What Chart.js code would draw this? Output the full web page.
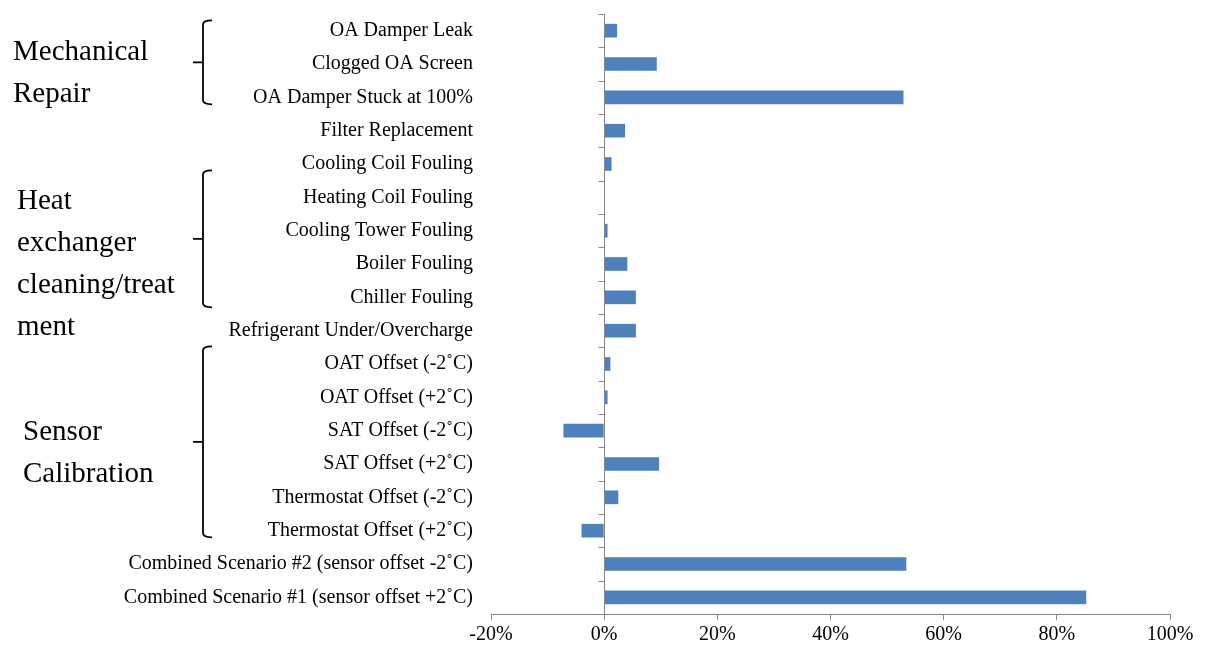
<!DOCTYPE html>
<html>
<head>
<meta charset="utf-8">
<script src="https://cdn.jsdelivr.net/npm/chart.js@4"></script>
<style>
  html, body { margin: 0; padding: 0; background: #fff; }
  #wrap { width: 1208px; height: 646px; }
</style>
</head>
<body>
<div id="wrap"><canvas id="myChart"></canvas></div>
<script>
// data
const categories = [
  'OA Damper Leak',
  'Clogged OA Screen',
  'OA Damper Stuck at 100%',
  'Filter Replacement',
  'Cooling Coil Fouling',
  'Heating Coil Fouling',
  'Cooling Tower Fouling',
  'Boiler Fouling',
  'Chiller Fouling',
  'Refrigerant Under/Overcharge',
  'OAT Offset (-2˚C)',
  'OAT Offset (+2˚C)',
  'SAT Offset (-2˚C)',
  'SAT Offset (+2˚C)',
  'Thermostat Offset (-2˚C)',
  'Thermostat Offset (+2˚C)',
  'Combined Scenario #2 (sensor offset -2˚C)',
  'Combined Scenario #1 (sensor offset +2˚C)'
];
const savings = [2.3, 9.3, 52.9, 3.7, 1.3, 0, 0.6, 4.1, 5.6, 5.6, 1.1, 0.6, -7.2, 9.7, 2.5, -4.0, 53.4, 85.2];
const xTicks = [-20, 0, 20, 40, 60, 80, 100];

// category groups drawn with a brace on the left
const groups = [
  { lines: ['Mechanical', 'Repair'], first: 0, last: 2, top: -0.31, bottom: 0.21, textX: 13, textDy: -10 },
  { lines: ['Heat', 'exchanger', 'cleaning/treat', 'ment'], first: 4, last: 8, top: 0.19, bottom: 0.3, textX: 17, textDy: -37 },
  { lines: ['Sensor', 'Calibration'], first: 10, last: 15, top: -0.53, bottom: 0.2, textX: 23, textDy: -9 }
];

const axisGray = '#868686';
const serif = '"Liberation Serif", "Times New Roman", serif';

// vertical category axis at 0% with tick marks
const zeroAxis = {
  id: 'zeroAxis',
  afterDatasetsDraw(chart) {
    const { ctx, chartArea, scales } = chart;
    const x0 = Math.round(scales.x.getPixelForValue(0)) + 0.5;
    const step = (chartArea.bottom - chartArea.top) / categories.length;
    ctx.save();
    ctx.strokeStyle = axisGray;
    ctx.lineWidth = 1;
    ctx.beginPath();
    ctx.moveTo(x0, chartArea.top);
    ctx.lineTo(x0, chartArea.bottom);
    for (let i = 0; i <= categories.length; i++) {
      const y = Math.round(chartArea.top + i * step) + 0.5;
      ctx.moveTo(x0 - 6, y);
      ctx.lineTo(x0, y);
    }
    ctx.stroke();
    ctx.restore();
  }
};

// braces + group titles
const groupBraces = {
  id: 'groupBraces',
  afterDraw(chart) {
    const { ctx, scales } = chart;
    const y = scales.y;
    const unit = y.getPixelForValue(1) - y.getPixelForValue(0);
    const bx = 203;
    ctx.save();
    ctx.strokeStyle = '#000';
    ctx.lineWidth = 1.8;
    ctx.fillStyle = '#000';
    ctx.font = '29px ' + serif;
    ctx.textBaseline = 'middle';
    groups.forEach(g => {
      const top = y.getPixelForValue(g.first) + g.top * unit;
      const bottom = y.getPixelForValue(g.last) + g.bottom * unit;
      const mid = (top + bottom) / 2;
      ctx.beginPath();
      ctx.moveTo(bx + 9, top);
      ctx.quadraticCurveTo(bx, top, bx, top + 4);
      ctx.lineTo(bx, bottom - 4);
      ctx.quadraticCurveTo(bx, bottom, bx + 9, bottom);
      ctx.moveTo(bx - 10, mid);
      ctx.lineTo(bx, mid);
      ctx.stroke();
      g.lines.forEach((t, i) => {
        ctx.fillText(t, g.textX, mid + g.textDy + i * 42);
      });
    });
    ctx.restore();
  }
};

const ctx = document.getElementById('myChart').getContext('2d');
let myChart = new Chart(ctx, {
  type: 'bar',
  data: {
    labels: categories,
    datasets: [{
      data: savings,
      backgroundColor: '#4F81BD',
      borderWidth: 0,
      categoryPercentage: 1,
      barPercentage: 0.41
    }]
  },
  options: {
    indexAxis: 'y',
    responsive: true,
    maintainAspectRatio: false,
    animation: false,
    layout: { padding: { left: 0, right: 38, top: 14, bottom: 0 } },
    plugins: { legend: { display: false }, tooltip: { enabled: false } },
    scales: {
      x: {
        type: 'linear',
        min: -20,
        max: 100,
        afterFit: s => { s.height = 32; s.paddingLeft = 0; s.paddingRight = 0; },
        afterBuildTicks: s => { s.ticks = xTicks.map(v => ({ value: v })); },
        grid: { drawOnChartArea: false, drawTicks: true, tickLength: 6, color: axisGray },
        border: { display: true, color: axisGray },
        ticks: {
          padding: 3,
          color: '#000',
          font: { family: serif, size: 20 },
          callback: v => v + '%'
        }
      },
      y: {
        afterFit: s => { s.width = 491; s.paddingTop = 0; s.paddingBottom = 0; },
        grid: { display: false },
        border: { display: false },
        ticks: {
          autoSkip: false,
          padding: 10,
          color: '#000',
          font: { family: serif, size: 20 }
        }
      }
    }
  },
  plugins: [zeroAxis, groupBraces]
});
</script>
</body>
</html>
